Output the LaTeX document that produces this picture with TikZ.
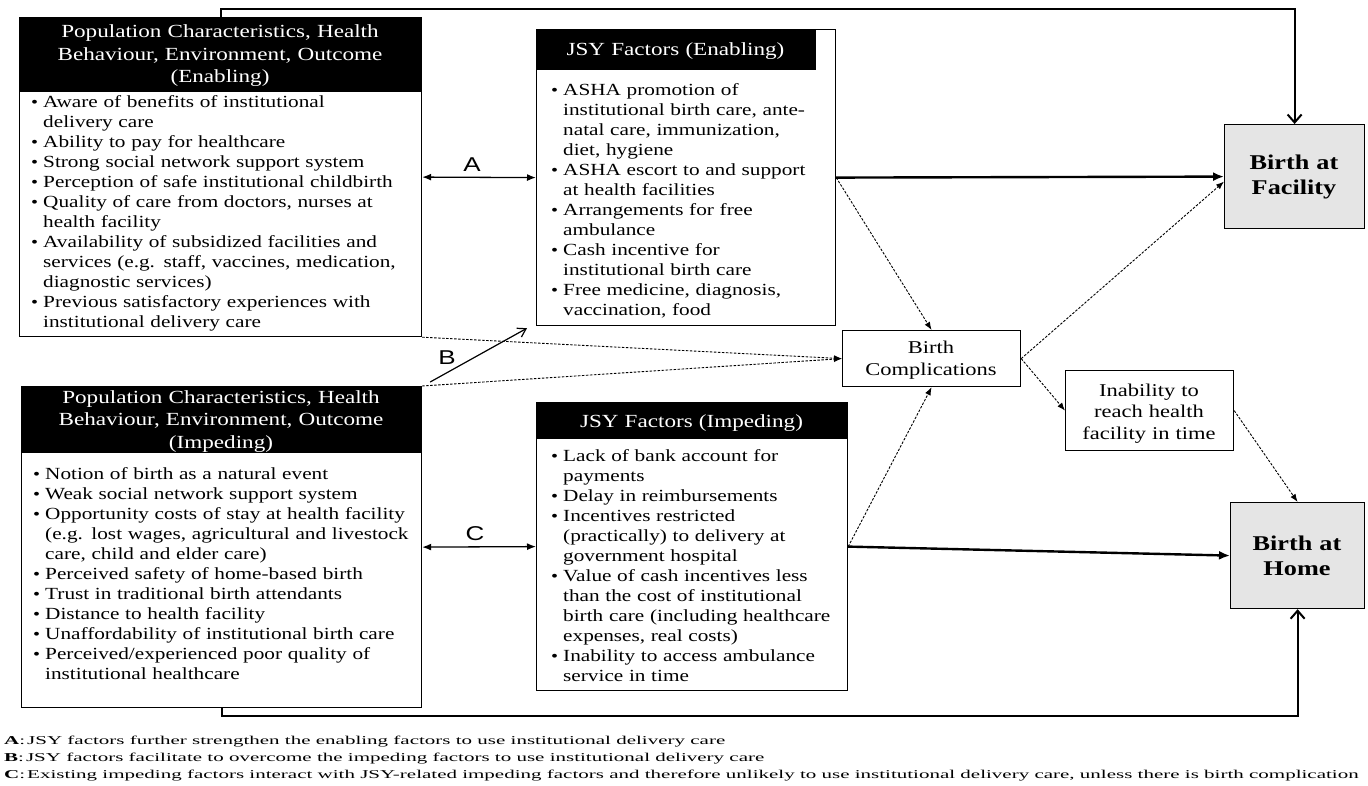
\documentclass[tikz,border=0pt]{standalone}
\usepackage{fontspec}
\setmainfont[FakeStretch=1.25]{Liberation Serif}
\newfontfamily\legfont[FakeStretch=1.75]{Liberation Serif}
\newfontfamily\labfont[FakeStretch=1.3]{Liberation Sans}
\usetikzlibrary{arrows.meta,calc}
\newcommand\bu{\makebox[12pt][l]{\fontsize{16}{16}\selectfont\textbullet}}
\newcommand\ii{\hspace*{12pt}}
\definecolor{outgray}{gray}{0.9}
\begin{document}
\begin{tikzpicture}[x=1pt,y=-1pt,
  frame/.style={draw, line width=1.2pt, anchor=north west, inner sep=0pt},
  hdr/.style={fill=black, draw=black, line width=1.2pt, anchor=north west, inner sep=0pt},
  hdrtext/.style={anchor=base, align=center, text=white, inner sep=0pt, font=\fontsize{18.5}{22.5}\selectfont},
  bodytext/.style={anchor=base west, align=left, inner sep=0pt, font=\fontsize{17}{20}\selectfont},
  smalltext/.style={anchor=base, align=center, inner sep=0pt, font=\fontsize{18}{22.5}\selectfont},
  outcome/.style={draw, fill=outgray, line width=1.2pt, anchor=north west, inner sep=0pt},
  outtext/.style={anchor=base, align=center, inner sep=0pt, font=\bfseries\fontsize{21}{25}\selectfont},
  solidarr/.style={line width=2.4pt, -{Latex[length=11pt,width=9pt]}},
  dasharr/.style={line width=0.9pt, dash pattern=on 2.5pt off 1.5pt, -{Latex[length=8pt,width=6pt]}},
  dblarr/.style={line width=1.3pt, {Latex[length=9pt,width=7pt]}-{Latex[length=9pt,width=7pt]}},
  barbarr/.style={line width=2pt, -{Straight Barb[length=8pt,width=14pt]}},
  thinbarb/.style={line width=1.2pt, -{Straight Barb[length=8pt,width=10pt]}},
  lab/.style={inner sep=0pt, font=\labfont\fontsize{20}{20}\selectfont},
  leg/.style={anchor=west, inner sep=0pt, font=\legfont\fontsize{12}{12}\selectfont}
]
\useasboundingbox (0,0) rectangle (1368,786);

% ---------- Box 1: population enabling ----------
\node[hdr, minimum width=402pt, minimum height=74pt] (h1) at (19,17) {};
\node[frame, minimum width=402pt, minimum height=319pt] (p1) at (19,17) {};
\node[hdrtext, text width=402pt] (h1t) at (220,38)
  {Population Characteristics, Health\\Behaviour, Environment, Outcome\\(Enabling)};
\node[bodytext, text width=390pt] (t1) at (31,108)
  {\bu Aware of benefits of institutional\\
   \ii delivery care\\
   \bu Ability to pay for healthcare\\
   \bu Strong social network support system\\
   \bu Perception of safe institutional childbirth\\
   \bu Quality of care from doctors, nurses at\\
   \ii health facility\\
   \bu Availability of subsidized facilities and\\
   \ii services (e.g. staff, vaccines, medication,\\
   \ii diagnostic services)\\
   \bu Previous satisfactory experiences with\\
   \ii institutional delivery care};

% ---------- Box 2: population impeding ----------
\node[hdr, minimum width=400pt, minimum height=66pt] (h2) at (21,386) {};
\node[frame, minimum width=400pt, minimum height=321pt] (p2) at (21,386) {};
\node[hdrtext, text width=400pt] (h2t) at (221,403)
  {Population Characteristics, Health\\Behaviour, Environment, Outcome\\(Impeding)};
\node[bodytext, text width=390pt] (t2) at (33,479)
  {\bu Notion of birth as a natural event\\
   \bu Weak social network support system\\
   \bu Opportunity costs of stay at health facility\\
   \ii (e.g. lost wages, agricultural and livestock\\
   \ii care, child and elder care)\\
   \bu Perceived safety of home-based birth\\
   \bu Trust in traditional birth attendants\\
   \bu Distance to health facility\\
   \bu Unaffordability of institutional birth care\\
   \bu Perceived/experienced poor quality of\\
   \ii institutional healthcare};

% ---------- JSY enabling ----------
\node[frame, minimum width=299pt, minimum height=296pt] (je) at (536,29) {};
\node[hdr, minimum width=279pt, minimum height=40pt] (jeh) at (536,29) {};
\node[hdrtext, text width=279pt] (jet) at (675.5,56) {JSY Factors (Enabling)};
\node[bodytext, text width=280pt] (t3) at (551,96)
  {\bu ASHA promotion of\\
   \ii institutional birth care, ante-\\
   \ii natal care, immunization,\\
   \ii diet, hygiene\\
   \bu ASHA escort to and support\\
   \ii at health facilities\\
   \bu Arrangements for free\\
   \ii ambulance\\
   \bu Cash incentive for\\
   \ii institutional birth care\\
   \bu Free medicine, diagnosis,\\
   \ii vaccination, food};

% ---------- JSY impeding ----------
\node[frame, minimum width=311pt, minimum height=288pt] (ji) at (536,402) {};
\node[hdr, minimum width=311pt, minimum height=36pt] (jih) at (536,402) {};
\node[hdrtext, text width=311pt] (jit) at (691.5,427) {JSY Factors (Impeding)};
\node[bodytext, text width=300pt] (t4) at (551,461)
  {\bu Lack of bank account for\\
   \ii payments\\
   \bu Delay in reimbursements\\
   \bu Incentives restricted\\
   \ii (practically) to delivery at\\
   \ii government hospital\\
   \bu Value of cash incentives less\\
   \ii than the cost of institutional\\
   \ii birth care (including healthcare\\
   \ii expenses, real costs)\\
   \bu Inability to access ambulance\\
   \ii service in time};

% ---------- Birth complications / inability ----------
\node[frame, minimum width=178pt, minimum height=56pt] (bc) at (842,330) {};
\node[smalltext, text width=178pt] (bct) at (931,353) {Birth\\Complications};
\node[frame, minimum width=168pt, minimum height=80pt] (in) at (1065,370) {};
\node[smalltext, text width=168pt, font=\fontsize{18}{21.5}\selectfont] (int) at (1149,396)
  {Inability to\\reach health\\facility in time};

% ---------- Outcomes ----------
\node[outcome, minimum width=140pt, minimum height=104pt] (bf) at (1224,124) {};
\node[outtext, text width=140pt] (bft) at (1294,170) {Birth at\\Facility};
\node[outcome, minimum width=134pt, minimum height=106pt] (bh) at (1230,502) {};
\node[outtext, text width=134pt] (bht) at (1297,550) {Birth at\\Home};

% ---------- Labels ----------
\node[lab] (la) at (472,165) {A};
\node[lab] (lb) at (447,358) {B};
\node[lab] (lc) at (475,534) {C};

% ---------- Connectors ----------
\draw[dblarr] (p1.east) -- (je.west);
\draw[dblarr] (p2.east) -- (ji.west);
\draw[thinbarb] ($(p2.north east)+(8,-4)$) -- ($(je.south west)+(-9,2)$);
\draw[dasharr] (p1.south east) -- (bc.west);
\draw[dasharr] (p2.north east) -- (bc.west);
\draw[dasharr] (je.east) -- (bc.north);
\draw[dasharr] (ji.east) -- (bc.south);
\draw[solidarr] (je.east) -- (bf.west);
\draw[solidarr] (ji.east) -- (bh.west);
\draw[dasharr] (bc.east) -- ($(bf.west)+(0,5)$);
\draw[dasharr] (bc.east) -- (in.west);
\draw[dasharr] (in.east) -- (bh.north);
\draw[barbarr] (p1.north) -- ++(0,-8) -| (bf.north);
\draw[barbarr] (p2.south) -- ++(0,8) -| (bh.south);

% ---------- Legend ----------
\node[leg] (lga) at (4,742) {\textbf{A}:\,JSY factors further strengthen the enabling factors to use institutional delivery care};
\node[leg] (lgb) at (4,759) {\textbf{B}:\,JSY factors facilitate to overcome the impeding factors to use institutional delivery care};
\node[leg] (lgc) at (4,776) {\textbf{C}:\,Existing impeding factors interact with JSY-related impeding factors and therefore unlikely to use institutional delivery care, unless there is birth complication};
\end{tikzpicture}
\end{document}
